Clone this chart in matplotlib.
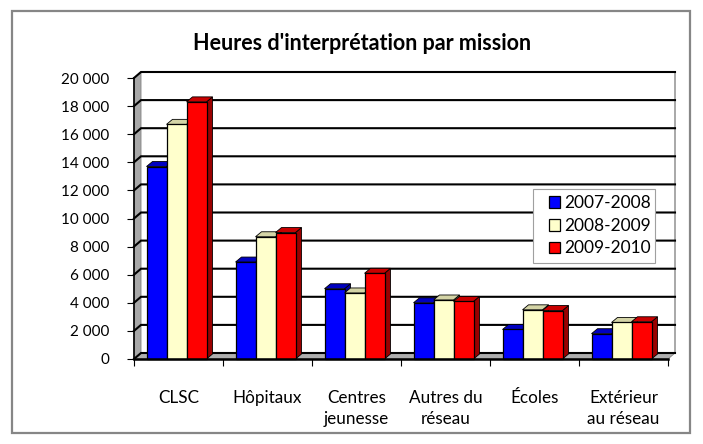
import numpy as np
import matplotlib
matplotlib.use('Agg')
import matplotlib.pyplot as plt
from matplotlib.patches import Polygon, Patch, Rectangle

plt.rcParams['font.family'] = ['Lato', 'DejaVu Sans']

# Data
categories = ['CLSC', 'Hôpitaux', 'Centres\njeunesse', 'Autres du\nréseau',
              'Écoles', 'Extérieur\nau réseau']
series_names = ['2007-2008', '2008-2009', '2009-2010']
hours_0708 = [13700, 6900, 5000, 4000, 2100, 1800]
hours_0809 = [16700, 8700, 4700, 4200, 3500, 2600]
hours_0910 = [18300, 9000, 6100, 4100, 3450, 2650]
y_ticks = list(range(0, 20001, 2000))

front_colors = ['#0000FF', '#FFFFCC', '#FF0000']
top_colors = ['#0000C0', '#D4D4A6', '#C80000']
side_colors = ['#0000A0', '#BDBD90', '#9A0000']

W, H = 703, 444
fig = plt.figure(figsize=(W / 100, H / 100), dpi=100)

# plot area in pixels (front plane)
left_px, right_px, top_px, bot_px = 134, 668, 78, 359
ax = fig.add_axes([left_px / W, 1 - bot_px / H,
                   (right_px - left_px) / W, (bot_px - top_px) / H])
ax.set_xlim(-0.5, len(categories) - 0.5)
ax.set_ylim(0, 20000)
ax.patch.set_alpha(0)

ux = len(categories) / (right_px - left_px)      # data units per pixel (x)
uy = 20000 / (bot_px - top_px)                   # data units per pixel (y)

# depth of walls and bars
wdx, wdy = 7 * ux, 6 * uy
bdx, bdy = 6 * ux, 5 * uy
x0, x1 = -0.5, len(categories) - 0.5

# left wall and floor
ax.add_patch(Polygon([(x0, 0), (x0 + wdx, wdy), (x0 + wdx, 20000 + wdy), (x0, 20000)],
                     closed=True, facecolor='#A8A8A8', edgecolor='#808080', lw=0.6,
                     zorder=1, clip_on=False))
ax.add_patch(Polygon([(x0, 0), (x1, 0), (x1 + wdx, wdy), (x0 + wdx, wdy)],
                     closed=True, facecolor='#AEAEAE', edgecolor='#808080', lw=0.6,
                     zorder=1, clip_on=False))
# right edge of back wall
ax.plot([x1 + wdx, x1 + wdx], [wdy, 20000 + wdy], color='#9A9A9A', lw=1.2,
        zorder=1, clip_on=False)

# gridlines on back wall
for v in y_ticks:
    ax.plot([x0, x0 + wdx, x1 + wdx], [v, v + wdy, v + wdy], color='black',
            lw=1.5, zorder=2, clip_on=False, solid_joinstyle='miter')

# bars
bw = 20 * ux
shift = -2 * ux
series = [hours_0708, hours_0809, hours_0910]
for i in range(len(categories)):
    start = i - 1.5 * bw + shift
    for j, vals in enumerate(series):
        h = vals[i]
        xa = start + j * bw
        xb = xa + bw
        ax.add_patch(Polygon([(xb, 0), (xb + bdx, bdy), (xb + bdx, h + bdy), (xb, h)],
                             closed=True, facecolor=side_colors[j], edgecolor='black',
                             lw=0.6, zorder=3, clip_on=False))
        ax.add_patch(Polygon([(xa, h), (xb, h), (xb + bdx, h + bdy), (xa + bdx, h + bdy)],
                             closed=True, facecolor=top_colors[j], edgecolor='black',
                             lw=0.6, zorder=3, clip_on=False))
        ax.add_patch(Rectangle((xa, 0), bw, h, facecolor=front_colors[j],
                               edgecolor='black', lw=0.9, zorder=3, clip_on=False))

# axes
for s in ['top', 'right']:
    ax.spines[s].set_visible(False)
ax.spines['left'].set_linewidth(1.2)
ax.spines['bottom'].set_linewidth(1.8)
ax.spines['left'].set_zorder(4)
ax.spines['bottom'].set_zorder(4)

ax.set_yticks(y_ticks)
ax.set_yticklabels(['{:,}'.format(v).replace(',', ' ') for v in y_ticks])
ax.tick_params(axis='y', length=5, width=0.8, direction='out', labelsize=11, pad=13)

ax.set_xticks(np.arange(len(categories) + 1) - 0.5)
ax.set_xticklabels([])
ax.tick_params(axis='x', which='major', length=5, width=0.8, direction='out')
ax.set_xticks(np.arange(len(categories)), minor=True)
ax.set_xticklabels(categories, minor=True, fontsize=12.3, linespacing=1.4, va='top')
ax.tick_params(axis='x', which='minor', length=0, pad=22)

fig.text(362 / W, 1 - 43 / H, "Heures d'interprétation par mission",
         ha='center', va='center', fontsize=15.5, fontweight='bold')

# legend: own frame, entries placed inside
fig.patches.append(Rectangle((533 / W, 1 - 263 / H), (655 - 533) / W, (263 - 189) / H,
                             transform=fig.transFigure, facecolor='white',
                             edgecolor='#A0A0A0', lw=0.8, zorder=5))
handles = [Patch(facecolor=c, edgecolor='black', lw=0.9) for c in front_colors]
leg = fig.legend(handles, series_names, loc='upper left',
                 bbox_to_anchor=(544 / W, 1 - 190 / H), bbox_transform=fig.transFigure,
                 borderaxespad=0, frameon=False,
                 fontsize=12.5, handlelength=0.65, handleheight=0.65,
                 handletextpad=0.2, labelspacing=0.38, borderpad=0.3)
leg.set_zorder(6)

# outer border
fig.patches.append(Rectangle((12 / W, 1 - 433 / H), (690 - 12) / W, (433 - 11) / H,
                             transform=fig.transFigure, fill=False,
                             edgecolor='#868686', lw=1.6))

fig.savefig('out.png', dpi=100)
